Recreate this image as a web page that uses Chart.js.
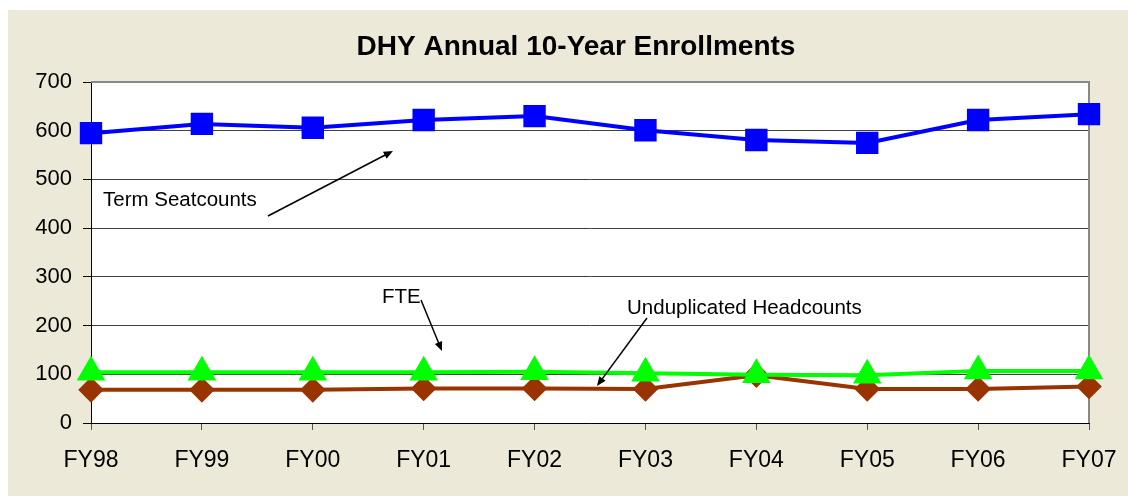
<!DOCTYPE html>
<html>
<head>
  <meta charset="UTF-8">
  <title>DHY Annual 10-Year Enrollments</title>
  <script src="https://cdn.jsdelivr.net/npm/chart.js"></script>
  <style>
    body {
      margin: 0;
      background: white;
    }
    #wrap {
      width: 1128px;
      height: 496px;
    }
  </style>
</head>
<body>
  <div id="wrap"><canvas id="enrollChart" width="1128" height="496"></canvas></div>

  <script>
    const years = ["FY98", "FY99", "FY00", "FY01", "FY02", "FY03", "FY04", "FY05", "FY06", "FY07"];
    const seatcounts = [595, 614, 606, 622, 630, 601, 581, 575, 622, 634];
    const fte = [104, 104, 104, 104, 105, 102, 99, 98, 107, 107];
    const headcounts = [68, 68, 68, 71, 71, 70, 98, 70, 70, 75];
    const yTicks = [0, 100, 200, 300, 400, 500, 600, 700];

    const FONT = "'Liberation Sans', Arial, sans-serif";

    // beige frame + white plot area + grey border
    const framePlugin = {
      id: 'frame',
      beforeDraw(chart) {
        const { ctx, chartArea } = chart;
        ctx.save();
        ctx.fillStyle = '#ffffff';
        ctx.fillRect(0, 0, chart.width, chart.height);
        ctx.fillStyle = '#ECE9D8';
        ctx.fillRect(8, 10, chart.width - 8, chart.height - 10);
        ctx.fillStyle = '#ffffff';
        ctx.fillRect(chartArea.left, chartArea.top, chartArea.right - chartArea.left, chartArea.bottom - chartArea.top);
        ctx.restore();
      },
      beforeDatasetsDraw(chart) {
        const { ctx, chartArea } = chart;
        ctx.save();
        ctx.strokeStyle = '#888888';
        ctx.lineWidth = 2;
        ctx.beginPath();
        ctx.moveTo(chartArea.left, chartArea.top);
        ctx.lineTo(chartArea.right, chartArea.top);
        ctx.lineTo(chartArea.right, chartArea.bottom);
        ctx.stroke();
        ctx.restore();
      }
    };

    // title and the hand-placed labels with arrows
    const notesPlugin = {
      id: 'notes',
      afterDraw(chart) {
        const { ctx } = chart;
        const x = chart.scales.x, y = chart.scales.y;
        const px = i => x.getPixelForValue(i);
        const py = v => y.getPixelForValue(v);

        ctx.save();
        ctx.fillStyle = '#000';
        ctx.textBaseline = 'middle';
        ctx.textAlign = 'center';
        ctx.font = `bold 28px ${FONT}`;
        ctx.fillText('DHY Annual 10-Year Enrollments', 576, 47);

        ctx.textAlign = 'left';
        ctx.font = `20.5px ${FONT}`;
        ctx.fillText('Term Seatcounts', px(0.108), py(457.8));
        ctx.fillText('FTE', px(2.624), py(257.6));
        ctx.fillText('Unduplicated Headcounts', px(4.834), py(236.1));

        function arrow(x1, y1, x2, y2) {
          const a = Math.atan2(y2 - y1, x2 - x1);
          ctx.strokeStyle = '#000';
          ctx.lineWidth = 1.5;
          ctx.beginPath();
          ctx.moveTo(x1, y1);
          ctx.lineTo(x2 - Math.cos(a) * 6, y2 - Math.sin(a) * 6);
          ctx.stroke();
          ctx.beginPath();
          ctx.moveTo(x2, y2);
          ctx.lineTo(x2 - Math.cos(a - 0.4) * 10, y2 - Math.sin(a - 0.4) * 10);
          ctx.lineTo(x2 - Math.cos(a + 0.4) * 10, y2 - Math.sin(a + 0.4) * 10);
          ctx.closePath();
          ctx.fill();
        }
        arrow(px(1.596), py(424.9), px(2.723), py(558.4));
        arrow(px(2.976), py(252.5), px(3.165), py(147.8));
        arrow(px(5.014), py(215.5), px(4.563), py(76.0));
        ctx.restore();
      }
    };

    new Chart(document.getElementById("enrollChart"), {
      type: 'line',
      data: {
        labels: years,
        datasets: [{
          label: "Term Seatcounts",
          data: seatcounts,
          borderColor: '#0000FF',
          backgroundColor: '#0000FF',
          borderWidth: 4,
          pointStyle: 'rect',
          pointRadius: 13,
          pointHoverRadius: 13,
          clip: false,
          order: 0
        }, {
          label: "FTE",
          data: fte,
          borderColor: '#00FF00',
          backgroundColor: '#00FF00',
          borderWidth: 4,
          pointStyle: 'triangle',
          pointRadius: 12.5,
          pointHoverRadius: 12.5,
          clip: false,
          order: 1
        }, {
          label: "Unduplicated Headcounts",
          data: headcounts,
          borderColor: '#993300',
          backgroundColor: '#993300',
          borderWidth: 4,
          pointStyle: 'rectRot',
          pointRadius: 10,
          pointHoverRadius: 10,
          clip: false,
          order: 2
        }]
      },
      options: {
        responsive: false,
        animation: false,
        layout: {
          padding: { top: 82, right: 39, bottom: 0, left: 0 }
        },
        plugins: {
          legend: { display: false },
          title: { display: false },
          tooltip: { enabled: false }
        },
        scales: {
          x: {
            offset: false,
            grid: {
              drawOnChartArea: false,
              drawTicks: true,
              tickLength: 7,
              tickColor: '#555555'
            },
            border: { color: '#000000', width: 1 },
            ticks: {
              color: '#000',
              font: { family: FONT, size: 23 },
              padding: 17,
              maxRotation: 0,
              autoSkip: false
            },
            afterFit(scale) {
              scale.height = 73;
              scale.paddingLeft = 0;
              scale.paddingRight = 0;
            }
          },
          y: {
            min: 0,
            max: 700,
            afterBuildTicks(scale) {
              scale.ticks = yTicks.map(v => ({ value: v }));
            },
            grid: {
              color: '#404040',
              lineWidth: 1,
              tickLength: 8,
              tickColor: '#000000'
            },
            border: { color: '#000000', width: 1 },
            ticks: {
              color: '#000',
              font: { family: FONT, size: 22 },
              padding: 11
            },
            afterFit(scale) { scale.width = 91; }
          }
        }
      },
      plugins: [framePlugin, notesPlugin]
    });
  </script>
</body>
</html>
